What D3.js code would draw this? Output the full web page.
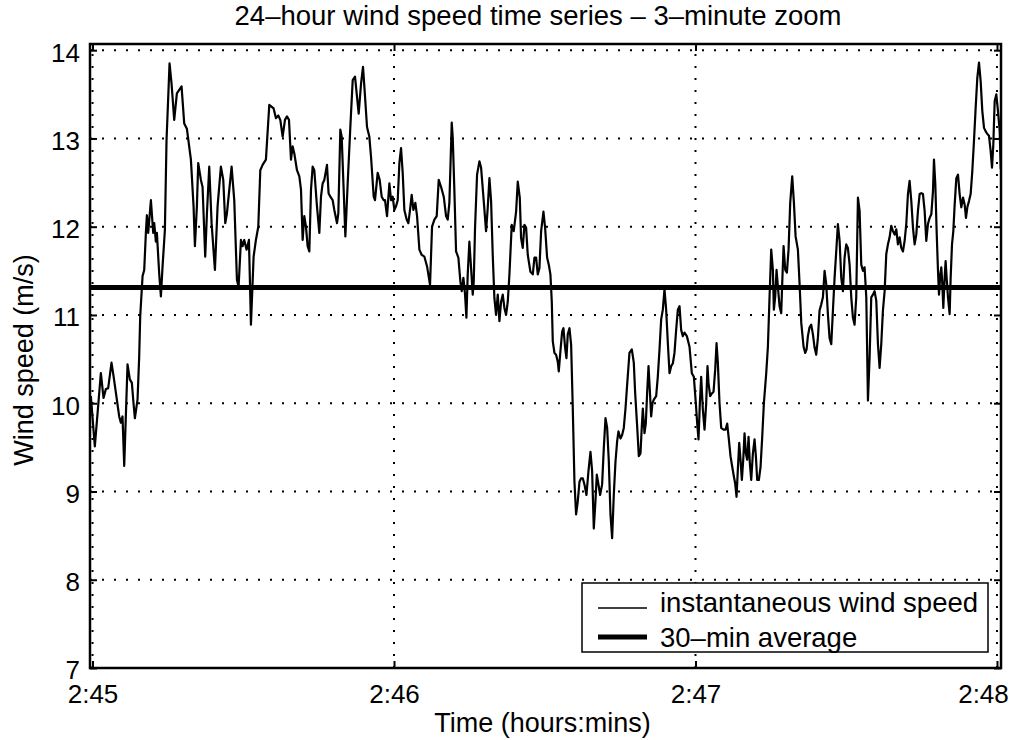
<!DOCTYPE html>
<html>
<head>
<meta charset="utf-8">
<script src="https://cdn.jsdelivr.net/npm/d3@7"></script>
<style>
  html, body { margin: 0; padding: 0; background: #fff; }
  svg { display: block; }
  text { font-family: "Liberation Sans", Arial, Helvetica, sans-serif; fill: #000; }
</style>
</head>
<body>
<script>
// ---------------- data ----------------
const chartTitle = "24–hour wind speed time series – 3–minute zoom";
const xAxisLabel = "Time (hours:mins)";
const yAxisLabel = "Wind speed (m/s)";

// seconds after 2:45
const timeSec = [
  -0.33, 0.46, 1.66, 2.19, 2.65, 3.12, 3.78, 4.18, 4.65, 5.31, 5.64, 5.97, 6.31, 6.97, 7.43, 7.83,
  8.16, 8.43, 8.96, 9.29, 9.49, 9.96, 10.29, 10.62, 10.82, 11.08, 11.62, 12.08, 12.28, 12.61, 12.81,
  13.27, 13.61, 13.94, 14.40, 14.73, 15.33, 15.73, 16.26, 16.79, 17.26, 17.72, 18.25, 18.78, 19.58,
  20.11, 20.38, 20.77, 21.04, 21.57, 21.90, 22.43, 22.77, 23.23, 23.70, 24.36, 24.89, 25.55, 26.02,
  26.42, 26.75, 27.68, 28.21, 28.74, 29.07, 29.54, 29.87, 30.20, 30.66, 31.13, 31.53, 32.06, 32.52,
  32.99, 33.39, 33.85, 34.51, 35.18,
  36.04, 36.51, 36.97, 37.37, 37.84, 38.30, 38.70, 39.10, 39.50, 39.83, 40.16, 40.69, 41.16, 41.49,
  41.82, 42.15, 42.48, 42.81, 43.15, 43.48, 43.81, 44.14, 44.67, 45.14, 45.47, 45.80, 46.13, 46.66,
  46.98, 47.33, 47.79, 48.12, 48.66, 48.92, 49.32, 49.59, 49.98, 50.32, 50.78, 51.31, 51.78, 52.24,
  52.64, 52.97, 53.44, 53.83, 54.10, 54.63, 55.09, 55.43, 55.96, 56.22, 56.75, 57.15, 57.55, 57.95,
  58.21, 58.61, 59.08, 59.41, 59.74, 60.07, 60.40, 60.74, 61.07, 61.40, 61.73, 62.06, 62.53, 62.86,
  63.19, 63.52, 63.86, 64.25, 64.59, 65.05, 65.52, 66.05, 66.58, 67.17, 67.57, 68.04, 68.50, 68.90,
  69.37, 69.90, 70.36, 70.69, 71.02,
  71.49, 71.69, 72.02, 72.35, 72.81, 73.21, 73.48, 73.81, 74.14, 74.41, 74.67, 75.00, 75.34, 75.67,
  75.87, 76.13, 76.53, 77.00, 77.33, 77.86, 78.32, 78.65, 78.99, 79.32, 79.65, 79.98, 80.31, 80.65,
  80.98, 81.31, 81.64, 81.97, 82.31, 82.64, 82.97, 83.43, 83.83, 84.30, 84.63, 85.03, 85.29, 85.62,
  85.96, 86.29, 86.62, 87.15, 87.62, 87.95, 88.28, 88.61, 88.94, 89.28, 89.74, 90.07, 90.47, 90.80,
  91.13, 91.40, 91.60, 91.93, 92.26, 92.59, 92.79, 93.12, 93.46, 93.72, 94.05, 94.32, 94.58, 94.92,
  95.25, 95.58, 95.91, 96.24, 96.58, 96.91, 97.24, 97.57, 97.90, 98.30, 98.70, 99.10, 99.43, 99.76,
  100.09, 100.36, 100.69, 101.02, 101.42, 101.75, 102.09, 102.42, 102.75, 103.08, 103.41, 103.74,
  104.08, 104.41, 104.67, 105.07, 105.40, 105.73, 106.07, 106.40,
  106.86, 107.33, 107.72, 107.99, 108.39, 108.72, 109.05, 109.32, 109.52, 109.85, 110.11, 110.38,
  110.65, 110.91, 111.18, 111.44, 111.71, 112.17, 112.50, 112.84, 113.17, 113.50, 113.83, 114.16,
  114.50, 114.83, 115.16, 115.49, 115.82, 116.15, 116.49, 116.82, 117.15, 117.48, 117.81, 118.28,
  118.81, 119.27, 119.67, 120.07, 120.34, 120.60, 120.87, 121.13, 121.46, 121.80, 122.13, 122.39,
  122.59, 122.92, 123.26, 123.59, 123.92, 124.19, 124.45, 124.78, 125.12, 125.58, 125.98, 126.31,
  126.64, 126.97, 127.31, 127.64, 127.90, 128.17, 128.43, 128.70, 128.96, 129.23, 129.50, 129.76,
  130.03, 130.29, 130.56, 130.82, 131.09, 131.42, 131.75, 132.02, 132.28, 132.61, 132.95, 133.28,
  133.61, 134.08, 134.41, 134.74, 135.07, 135.40, 135.60, 135.87, 136.13, 136.40, 136.73, 137.06,
  137.26, 137.53, 137.86, 138.19, 138.52, 138.85, 139.25, 139.59, 139.92, 140.38, 140.71, 141.05,
  141.51, 141.84, 142.11, 142.37,
  142.70, 143.03, 143.37, 143.70, 144.03, 144.36, 144.69, 145.03, 145.36, 145.69, 146.02, 146.35,
  146.68, 147.02, 147.35, 147.68, 148.01, 148.34, 148.68, 149.01, 149.34, 149.67, 150.00, 150.33,
  150.67, 151.00, 151.33, 151.66, 151.99, 152.33, 152.66, 152.99, 153.32, 153.65, 153.99, 154.32,
  154.65, 154.98, 155.31, 155.64, 155.98, 156.31, 156.64, 156.97, 157.30, 157.64, 157.97, 158.30,
  158.63, 158.96, 159.30, 159.63, 159.96, 160.29, 160.62, 160.95, 161.29, 161.62, 161.95, 162.28,
  162.61, 162.95, 163.28, 163.61, 163.94, 164.27, 164.61, 164.94, 165.27, 165.60, 165.93, 166.26,
  166.60, 166.93, 167.26, 167.46, 167.73, 167.99, 168.26, 168.46, 168.72, 168.92, 169.12, 169.32,
  169.58, 169.78, 169.98, 170.25, 170.58, 170.78, 171.05, 171.31, 171.58, 171.91, 172.24, 172.57,
  172.90, 173.24, 173.57, 173.83, 174.10, 174.43, 174.76, 175.09, 175.42, 175.76, 176.09, 176.42,
  176.75, 177.08, 177.42, 177.75, 178.08, 178.41, 178.74, 179.01, 179.27, 179.54, 179.87, 180.20,
  180.54, 180.75
];

// instantaneous wind speed (m/s)
const windSpeed = [
  10.08, 9.51, 10.34, 10.06, 10.16, 10.17, 10.46, 10.31, 10.12, 9.85, 9.78, 9.85, 9.29, 10.44, 10.27, 10.23,
  10.00, 9.83, 10.04, 10.53, 10.98, 11.44, 11.51, 11.93, 12.13, 11.93, 12.30, 11.93, 12.04, 11.83, 11.93,
  11.47, 11.21, 11.55, 11.96, 12.98, 13.85, 13.62, 13.21, 13.51, 13.55, 13.59, 13.17, 13.11, 12.76,
  12.23, 11.78, 12.23, 12.72, 12.53, 12.45, 11.66, 12.15, 12.68, 12.04, 11.51, 12.23, 12.68, 12.53,
  12.04, 12.15, 12.68, 12.30, 11.40, 11.32, 11.85, 11.78, 11.85, 11.74, 11.85, 10.89, 11.66, 11.85,
  12.00, 12.64, 12.70, 12.76, 13.38,
  13.34, 13.23, 13.26, 13.21, 13.02, 13.21, 13.25, 13.21, 12.76, 12.91, 12.83, 12.64, 12.57, 12.42,
  11.85, 12.12, 12.00, 11.78, 11.72, 12.42, 12.68, 12.64, 12.23, 11.93, 12.34, 12.49, 12.53, 12.70,
  12.38, 12.34, 12.30, 12.19, 12.04, 12.15, 13.10, 13.02, 12.42, 11.89, 12.49, 13.13, 13.66, 13.70,
  13.47, 13.28, 13.62, 13.81, 13.59, 13.13, 13.02, 12.79, 12.34, 12.30, 12.61, 12.53, 12.34, 12.30,
  12.30, 12.12, 12.49, 12.30, 12.34, 12.19, 12.23, 12.30, 12.72, 12.89, 12.61, 12.19, 12.08, 12.04,
  12.19, 12.36, 12.19, 12.27, 12.12, 11.74, 11.68, 11.66, 11.55, 11.34, 12.00, 12.08, 12.12, 12.53,
  12.45, 12.34, 12.12, 12.08, 12.27,
  13.18, 13.01, 12.40, 11.72, 11.65, 11.38, 11.27, 11.42, 11.23, 10.97, 11.46, 11.83, 11.53, 11.23,
  11.38, 11.99, 12.59, 12.74, 12.67, 12.29, 11.95, 12.21, 12.55, 12.29, 11.68, 11.19, 11.00, 11.23,
  10.93, 11.15, 11.23, 11.08, 11.00, 11.15, 11.46, 12.02, 11.95, 12.17, 12.51, 12.33, 11.87, 11.76,
  12.02, 11.99, 11.68, 11.49, 11.46, 11.65, 11.65, 11.46, 11.53, 11.95, 12.17, 11.99, 11.65, 11.57,
  11.46, 11.15, 10.70, 10.57, 10.55, 10.47, 10.36, 10.59, 10.81, 10.85, 10.63, 10.51, 10.78, 10.85,
  10.66, 9.94, 9.11, 8.74, 8.89, 9.11, 9.15, 9.15, 9.08, 8.96, 9.23, 9.45, 9.23, 8.58,
  8.89, 9.19, 9.08, 8.96, 9.08, 9.49, 9.83, 9.72, 9.34, 8.74, 8.47, 8.96,
  9.34, 9.57, 9.68, 9.60, 9.64, 9.72, 9.94, 10.21,
  10.57, 10.61, 10.46, 10.12, 9.74, 9.40, 9.43, 9.74, 9.94, 9.66, 9.77, 10.12,
  10.42, 10.15, 9.85, 10.00, 10.04, 10.08, 10.30, 10.61, 10.95, 11.06, 11.29, 11.06,
  10.68, 10.34, 10.42, 10.45, 10.57, 10.83, 11.06, 11.10, 10.83, 10.76, 10.80, 10.76,
  10.64, 10.34, 10.30, 10.00, 9.77, 9.59, 10.00, 10.30, 9.93, 9.70, 10.00, 10.42,
  10.23, 10.08, 10.11, 10.13, 10.38, 10.68, 10.46, 10.00, 9.72, 9.70, 9.70, 9.77,
  9.59, 9.40, 9.28, 9.17, 9.09, 8.94, 9.25, 9.55, 9.36, 9.13, 9.36, 9.66,
  9.43, 9.36, 9.62, 9.32, 9.13, 9.43, 9.59, 9.40, 9.13, 9.13, 9.28, 9.62,
  10.00, 10.34, 10.64, 11.21, 11.74, 11.51, 11.06, 11.21, 11.51, 11.32, 11.10, 11.02,
  11.36, 11.78, 11.51, 11.48, 11.74, 12.27, 12.57, 12.27, 11.89, 11.74, 11.36, 10.91,
  10.64, 10.57, 10.61, 10.76,
  10.86, 10.89, 10.78, 10.63, 10.55, 10.74, 11.05, 11.12, 11.20, 11.50, 11.35, 11.01,
  10.74, 10.67, 11.05, 11.42, 11.72, 12.03, 11.84, 11.42, 11.27, 11.65, 11.80, 11.76,
  11.57, 11.20, 10.97, 10.89, 11.20, 12.33, 12.18, 11.57, 11.50, 11.54, 11.20, 10.03,
  10.52, 11.20, 11.23, 11.27, 11.16, 10.67, 10.40, 10.67, 11.05, 11.27, 11.69, 11.80,
  11.88, 12.01, 11.95, 11.91, 11.97, 11.80, 11.88, 11.76, 11.72, 11.84, 12.03, 12.37,
  12.52, 12.29, 11.99, 11.80, 11.91, 12.18, 12.37, 12.38, 12.37, 12.18, 11.84, 12.03,
  12.10, 12.14, 12.40, 12.76, 12.48, 11.95, 11.50, 11.23, 11.46, 11.54, 11.35, 11.08,
  11.42, 11.61, 11.42, 11.20, 11.01, 11.42, 11.80, 11.95, 12.25, 12.55, 12.59, 12.37,
  12.22, 12.33, 12.25, 12.10, 12.22, 12.29, 12.37, 12.63, 12.97, 13.35, 13.69, 13.86,
  13.65, 13.31, 13.12, 13.08, 13.05, 13.03, 12.86, 12.67, 12.93, 13.42, 13.50, 13.31,
  13.08, 12.65
];

const avgSpeed = 11.31;                 // 30-min average
const xTickSec = [0, 60, 120, 180];
const xTickLabels = ["2:45", "2:46", "2:47", "2:48"];
const yTicks = [7, 8, 9, 10, 11, 12, 13, 14];
const legendLabels = ["instantaneous wind speed", "30–min average"];

// ---------------- drawing ----------------
const W = 1016, H = 740;
const plot = { left: 90, right: 1001, top: 44, bottom: 668 };

const svg = d3.select("body").append("svg").attr("width", W).attr("height", H);
svg.append("rect").attr("width", W).attr("height", H).attr("fill", "#fff");

const x = d3.scaleLinear().domain([-0.5, 180.8]).range([plot.left, plot.right]);
const y = d3.scaleLinear().domain([7, 14.07]).range([plot.bottom, plot.top]);

svg.append("defs").append("clipPath").attr("id", "clip")
  .append("rect").attr("x", plot.left).attr("y", plot.top)
  .attr("width", plot.right - plot.left).attr("height", plot.bottom - plot.top);

// grid (dotted)
const grid = svg.append("g");
grid.selectAll("line.h").data(yTicks).join("line")
  .attr("x1", plot.left).attr("x2", plot.right)
  .attr("y1", d => y(d)).attr("y2", d => y(d))
  .attr("stroke", "#000").attr("stroke-width", 2).attr("stroke-dasharray", "2,10");
grid.selectAll("line.v").data(xTickSec).join("line")
  .attr("x1", d => x(d)).attr("x2", d => x(d))
  .attr("y1", plot.bottom).attr("y2", plot.top)
  .attr("stroke", "#000").attr("stroke-width", 2).attr("stroke-dasharray", "2,10");

// series
const series = timeSec.map((t, i) => ({ t, v: windSpeed[i] }));
const line = d3.line().x(d => x(d.t)).y(d => y(d.v));
svg.append("path").datum(series)
  .attr("clip-path", "url(#clip)")
  .attr("d", line).attr("fill", "none").attr("stroke", "#000")
  .attr("stroke-width", 2.2).attr("stroke-linejoin", "round");

// average line
svg.append("line")
  .attr("x1", plot.left).attr("x2", plot.right)
  .attr("y1", y(avgSpeed)).attr("y2", y(avgSpeed))
  .attr("stroke", "#000").attr("stroke-width", 5);

// axes
const fontTick = "26px";
const yAxis = d3.axisLeft(y).tickValues(yTicks).tickFormat(d3.format("d"))
  .tickSize(-7).tickSizeOuter(0).tickPadding(10);
const gy = svg.append("g").attr("transform", `translate(${plot.left},0)`).call(yAxis);
gy.selectAll("text").style("font-size", fontTick).attr("dy", "0.42em");

const xAxis = d3.axisBottom(x).tickValues(xTickSec).tickFormat((d, i) => xTickLabels[i])
  .tickSize(-7).tickSizeOuter(0).tickPadding(17);
const gx = svg.append("g").attr("transform", `translate(0,${plot.bottom})`).call(xAxis);
gx.selectAll("text").style("font-size", fontTick)
  .attr("x", (d, i) => i === xTickSec.length - 1 ? -14 : 0);

const gyR = svg.append("g").attr("transform", `translate(${plot.right},0)`)
  .call(d3.axisRight(y).tickValues(yTicks).tickSize(-7).tickSizeOuter(0).tickFormat(""));
const gxT = svg.append("g").attr("transform", `translate(0,${plot.top})`)
  .call(d3.axisTop(x).tickValues(xTickSec).tickSize(-7).tickSizeOuter(0).tickFormat(""));

[gy, gx, gyR, gxT].forEach(g => {
  g.select(".domain").remove();
  g.selectAll(".tick line").attr("stroke", "#000").attr("stroke-width", 2);
  g.attr("font-family", null);
});

// frame
svg.append("rect")
  .attr("x", plot.left).attr("y", plot.top)
  .attr("width", plot.right - plot.left).attr("height", plot.bottom - plot.top)
  .attr("fill", "none").attr("stroke", "#000").attr("stroke-width", 2.5);

// titles
svg.append("text").attr("x", 538).attr("y", 25).attr("text-anchor", "middle")
  .style("font-size", "27.5px").text(chartTitle);
svg.append("text").attr("x", (plot.left + plot.right) / 2 - 3).attr("y", 732)
  .attr("text-anchor", "middle").style("font-size", "27px").text(xAxisLabel);
svg.append("text").attr("transform", "translate(33,360) rotate(-90)")
  .attr("text-anchor", "middle").style("font-size", "27px").text(yAxisLabel);

// legend
const lg = svg.append("g").attr("transform", "translate(582,583)");
lg.append("rect").attr("width", 406).attr("height", 69)
  .attr("fill", "#fff").attr("stroke", "#000").attr("stroke-width", 1.5);
const legendRows = [
  { label: legendLabels[0], width: 1.5, lineY: 25, textY: 29 },
  { label: legendLabels[1], width: 5, lineY: 54, textY: 64 }
];
legendRows.forEach(r => {
  lg.append("line").attr("x1", 16).attr("x2", 65).attr("y1", r.lineY).attr("y2", r.lineY)
    .attr("stroke", "#000").attr("stroke-width", r.width);
  lg.append("text").attr("x", 78).attr("y", r.textY).style("font-size", "27.5px").text(r.label);
});
</script>
</body>
</html>
